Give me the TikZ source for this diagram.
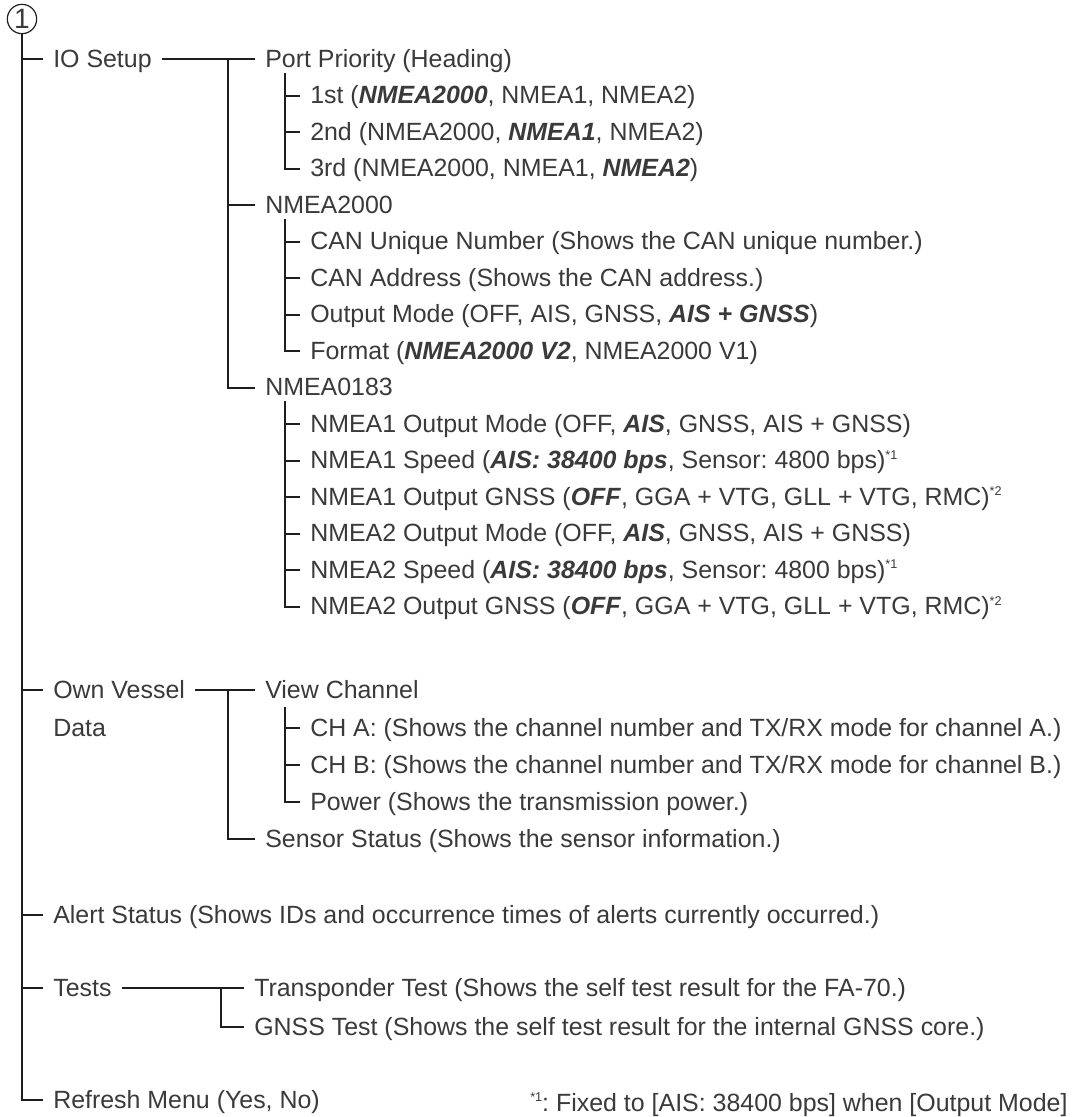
\documentclass[tikz,border=0pt]{standalone}
\usepackage{fontspec}
\setmainfont{Liberation Sans}
\frenchspacing
\definecolor{txt}{HTML}{3A3A3A}
\definecolor{lncol}{HTML}{1E1E1E}
\newcommand\bi[1]{\textbf{\textit{#1}}}
\newcommand\supx[1]{\raisebox{6.8pt}{\fontsize{9.5}{10}\selectfont #1}}
\begin{document}
\begin{tikzpicture}[x=0.75pt,y=-0.75pt,
  lbl/.style={anchor=west, inner xsep=7.5pt, inner ysep=0pt, text height=15pt, text depth=3pt, text=txt, font=\fontsize{18.7}{22}\selectfont\frenchspacing},
  ln/.style={draw=lncol, line width=1.5pt}]
\clip (0,0) rectangle (1083,1117);
\fill[white] (0,0) rectangle (1083,1117);
% root
\node[draw=lncol, line width=0.9pt, circle, minimum size=22pt, inner sep=0pt, text=txt, font=\fontsize{21}{21}\selectfont] (c1) at (22,19) {1};
% level 1
\node[lbl] (io) at (43,59) {IO Setup};
\node[lbl] (ov) at (43,690) {Own Vessel};
\node[lbl] (ovd) at (43,728) {Data};
\node[lbl] (alert) at (43,915) {Alert Status (Shows IDs and occurrence times of alerts currently occurred.)};
\node[lbl] (tests) at (43,988) {Tests};
\node[lbl] (refresh) at (43,1100) {Refresh Menu (Yes, No)};
% IO Setup subtree
\node[lbl] (pp) at (255,59) {Port Priority (Heading)};
\node[lbl] (pp1) at (300,95.5) {1st (\bi{NMEA2000}, NMEA1, NMEA2)};
\node[lbl] (pp2) at (300,132) {2nd (NMEA2000, \bi{NMEA1}, NMEA2)};
\node[lbl] (pp3) at (300,168.5) {3rd (NMEA2000, NMEA1, \bi{NMEA2})};
\node[lbl] (n2k) at (255,205) {NMEA2000};
\node[lbl] (n2k1) at (300,241.5) {CAN Unique Number (Shows the CAN unique number.)};
\node[lbl] (n2k2) at (300,278) {CAN Address (Shows the CAN address.)};
\node[lbl] (n2k3) at (300,314.5) {Output Mode (OFF, AIS, GNSS, \bi{AIS + GNSS})};
\node[lbl] (n2k4) at (300,351) {Format (\bi{NMEA2000 V2}, NMEA2000 V1)};
\node[lbl] (n0183) at (255,387.5) {NMEA0183};
\node[lbl] (m1) at (300,424) {NMEA1 Output Mode (OFF, \bi{AIS}, GNSS, AIS + GNSS)};
\node[lbl] (m2) at (300,460.5) {NMEA1 Speed (\bi{AIS: 38400 bps}, Sensor: 4800 bps)\supx{*1}};
\node[lbl] (m3) at (300,497) {NMEA1 Output GNSS (\bi{OFF}, GGA + VTG, GLL + VTG, RMC)\supx{*2}};
\node[lbl] (m4) at (300,533.5) {NMEA2 Output Mode (OFF, \bi{AIS}, GNSS, AIS + GNSS)};
\node[lbl] (m5) at (300,570) {NMEA2 Speed (\bi{AIS: 38400 bps}, Sensor: 4800 bps)\supx{*1}};
\node[lbl] (m6) at (300,606.5) {NMEA2 Output GNSS (\bi{OFF}, GGA + VTG, GLL + VTG, RMC)\supx{*2}};
% Own vessel subtree
\node[lbl] (vc) at (255,690) {View Channel};
\node[lbl] (vc1) at (300,728) {CH A: (Shows the channel number and TX/RX mode for channel A.)};
\node[lbl] (vc2) at (300,765) {CH B: (Shows the channel number and TX/RX mode for channel B.)};
\node[lbl] (vc3) at (300,802) {Power (Shows the transmission power.)};
\node[lbl] (ss) at (255,839) {Sensor Status (Shows the sensor information.)};
% Tests subtree
\node[lbl] (tt) at (244,988) {Transponder Test (Shows the self test result for the FA-70.)};
\node[lbl] (gt) at (244,1027) {GNSS Test (Shows the self test result for the internal GNSS core.)};
% footnote
\node[lbl, inner xsep=0pt] (fn) at (530,1103) {\supx{*1}: Fixed to [AIS: 38400 bps] when [Output Mode]};
% trunk
\draw[ln] (c1.south) |- (refresh.west);
\foreach \n in {io,ov,alert,tests} \draw[ln] (c1.south |- \n.west) -- (\n.west);
% IO Setup branches
\draw[ln] (io.east) -- (pp.west);
\coordinate (b1) at (228,59);
\draw[ln] (b1) |- (n0183.west);
\draw[ln] (b1 |- n2k.west) -- (n2k.west);
\coordinate (s1) at (285,73);
\draw[ln] (s1) |- (pp3.west);
\foreach \n in {pp1,pp2} \draw[ln] (s1 |- \n.west) -- (\n.west);
\coordinate (s2) at (285,219);
\draw[ln] (s2) |- (n2k4.west);
\foreach \n in {n2k1,n2k2,n2k3} \draw[ln] (s2 |- \n.west) -- (\n.west);
\coordinate (s3) at (285,401);
\draw[ln] (s3) |- (m6.west);
\foreach \n in {m1,m2,m3,m4,m5} \draw[ln] (s3 |- \n.west) -- (\n.west);
% Own vessel branches
\draw[ln] (ov.east) -- (vc.west);
\coordinate (b2) at (228,690);
\draw[ln] (b2) |- (ss.west);
\coordinate (s4) at (285,707);
\draw[ln] (s4) |- (vc3.west);
\foreach \n in {vc1,vc2} \draw[ln] (s4 |- \n.west) -- (\n.west);
% Tests branches
\draw[ln] (tests.east) -- (tt.west);
\coordinate (b3) at (221,988);
\draw[ln] (b3) |- (gt.west);
\end{tikzpicture}
\end{document}
